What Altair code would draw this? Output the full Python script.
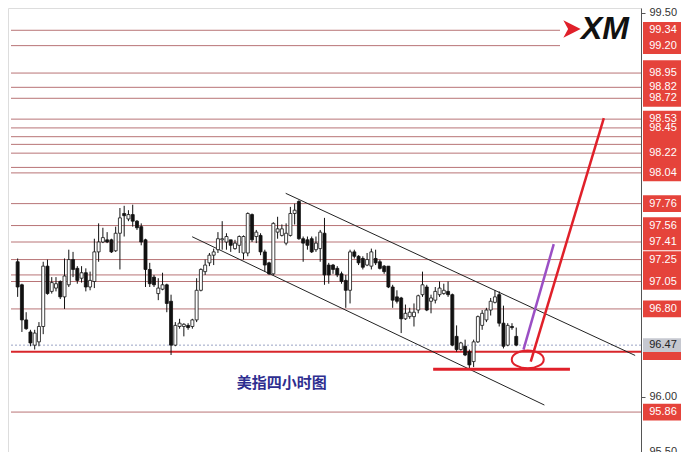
import altair as alt
import pandas as pd

# ---------------- candle data (4-hour USD index) ----------------
OPEN = [97.23, 97.02, 96.70, 96.59, 96.47, 96.50, 96.64, 97.19, 96.96, 96.99,
        97.05, 96.91, 97.02, 97.25, 97.17, 97.08, 97.13, 97.00, 97.05, 97.32,
        97.41, 97.43, 97.43, 97.33, 97.49, 97.67, 97.62, 97.66, 97.60, 97.55,
        97.43, 97.16, 97.09, 96.94, 96.98, 97.02, 96.87, 96.47, 96.64, 96.64,
        96.65, 96.64, 96.70, 96.97, 97.14, 97.22, 97.29, 97.34, 97.43, 97.41,
        97.43, 97.35, 97.38, 97.31, 97.31, 97.66, 97.46, 97.47, 97.32, 97.22,
        97.12, 97.50, 97.47, 97.40, 97.47, 97.67, 97.78, 97.44, 97.43, 97.44,
        97.34, 97.35, 97.49, 97.20, 97.20, 97.17, 97.12, 97.06, 96.97, 97.32,
        97.28, 97.26, 97.20, 97.19, 97.26, 97.23, 97.19, 97.19, 97.00, 96.91,
        96.90, 96.71, 96.73, 96.73, 96.79, 96.93, 97.00, 96.87, 96.88, 96.93,
        96.94, 96.96, 96.93, 96.55, 96.43, 96.46, 96.41, 96.32, 96.50, 96.65,
        96.70, 96.79, 96.86, 96.93, 96.67, 96.47, 96.64, 96.55]
HIGH = [97.26, 97.03, 96.77, 96.61, 96.61, 96.68, 97.23, 97.25, 97.09, 97.09,
        97.06, 97.26, 97.34, 97.32, 97.19, 97.19, 97.17, 97.14, 97.44, 97.58,
        97.54, 97.50, 97.44, 97.55, 97.72, 97.74, 97.70, 97.75, 97.61, 97.58,
        97.44, 97.22, 97.11, 97.08, 97.13, 97.03, 96.93, 96.68, 96.71, 96.67,
        96.67, 96.71, 97.08, 97.17, 97.25, 97.31, 97.35, 97.50, 97.60, 97.49,
        97.43, 97.43, 97.47, 97.47, 97.68, 97.67, 97.52, 97.49, 97.34, 97.23,
        97.59, 97.64, 97.57, 97.58, 97.73, 97.76, 97.79, 97.46, 97.46, 97.46,
        97.46, 97.52, 97.63, 97.22, 97.21, 97.19, 97.14, 97.11, 97.34, 97.34,
        97.29, 97.28, 97.31, 97.35, 97.34, 97.25, 97.20, 97.19, 97.02, 96.97,
        96.91, 96.84, 96.81, 96.85, 96.93, 97.14, 97.02, 96.93, 97.00, 97.05,
        97.03, 97.05, 96.94, 96.65, 96.50, 96.52, 96.43, 96.52, 96.74, 96.79,
        96.81, 96.90, 96.97, 96.96, 96.83, 96.67, 96.67, 96.63]
LOW = [96.91, 96.59, 96.61, 96.46, 96.43, 96.46, 96.57, 96.93, 96.94, 96.96,
       96.89, 96.80, 97.00, 97.09, 97.03, 97.04, 96.96, 96.97, 96.99, 97.23,
       97.40, 97.40, 97.31, 97.32, 97.16, 97.46, 97.60, 97.55, 97.52, 97.38,
       97.00, 97.00, 97.00, 96.88, 96.97, 96.77, 96.38, 96.46, 96.62, 96.55,
       96.61, 96.62, 96.68, 96.96, 97.11, 97.19, 97.20, 97.31, 97.34, 97.34,
       97.32, 97.34, 97.31, 97.25, 97.28, 97.41, 97.40, 97.29, 97.14, 97.11,
       97.11, 97.44, 97.46, 97.38, 97.46, 97.57, 97.43, 97.23, 97.34, 97.31,
       97.32, 97.23, 97.02, 97.03, 97.12, 97.09, 97.03, 96.81, 96.85, 97.26,
       97.20, 97.16, 97.19, 97.16, 97.20, 97.16, 97.12, 96.99, 96.81, 96.85,
       96.58, 96.70, 96.71, 96.64, 96.76, 96.91, 96.78, 96.76, 96.85, 96.91,
       96.93, 96.91, 96.46, 96.41, 96.42, 96.37, 96.26, 96.27, 96.49, 96.61,
       96.68, 96.74, 96.85, 96.64, 96.44, 96.46, 96.61, 96.46]
CLOSE = [97.00, 96.70, 96.62, 96.49, 96.58, 96.64, 97.19, 96.94, 97.04, 97.03,
         96.91, 97.10, 97.25, 97.16, 97.06, 97.13, 97.00, 97.06, 97.32, 97.41,
         97.45, 97.41, 97.32, 97.49, 97.63, 97.65, 97.66, 97.60, 97.54, 97.41,
         97.16, 97.03, 97.02, 96.99, 97.02, 96.85, 96.47, 96.65, 96.67, 96.66,
         96.63, 96.70, 96.97, 97.16, 97.20, 97.29, 97.32, 97.44, 97.44, 97.46,
         97.38, 97.40, 97.46, 97.46, 97.67, 97.43, 97.50, 97.32, 97.20, 97.12,
         97.58, 97.53, 97.53, 97.49, 97.67, 97.70, 97.44, 97.40, 97.38, 97.32,
         97.40, 97.50, 97.11, 97.11, 97.16, 97.11, 97.05, 96.97, 97.32, 97.28,
         97.22, 97.18, 97.25, 97.32, 97.22, 97.17, 97.14, 97.00, 96.88, 96.87,
         96.71, 96.76, 96.77, 96.77, 96.92, 97.02, 96.79, 96.90, 96.96, 96.99,
         96.97, 96.93, 96.47, 96.43, 96.49, 96.38, 96.29, 96.50, 96.73, 96.76,
         96.79, 96.87, 96.91, 96.67, 96.46, 96.65, 96.63, 96.47]

# horizontal price levels drawn across the chart
LEVELS = [99.34, 99.20, 98.95, 98.82, 98.72, 98.53, 98.45, 98.37, 98.30, 98.22,
          98.09, 98.04, 97.76, 97.56, 97.41, 97.25, 97.11, 97.05, 96.80, 95.86]
# red price tags on the right axis (some are hidden under their neighbours)
TAG_LEVELS = [99.34, 99.20, 98.99, 98.95, 98.82, 98.72, 98.53, 98.45, 98.37, 98.30,
              98.22, 98.09, 98.04, 97.76, 97.56, 97.41, 97.25, 97.11, 97.05, 96.80,
              96.41, 95.86]
TAG_TEXTS = ["99.34", "99.20", "98.95", "98.82", "98.72", "98.53", "98.45", "98.22",
             "98.04", "97.76", "97.56", "97.41", "97.25", "97.05", "96.80", "95.86"]
AXIS_VALUES = [95.50, 96.00, 99.50]
LAST_PRICE = 96.47
SUPPORT = 96.41
LOW_SUPPORT = 96.25
LOW_SUPPORT_RANGE = [98.5, 130.6]

# drawn trend channel: (x1, y1, x2, y2)
CH_X1 = [63.9, 41.95]
CH_Y1 = [97.854, 97.458]
CH_X2 = [145.9, 124.6]
CH_Y2 = [96.376, 95.924]
# projection arrows
PURPLE = [119.7, 96.43, 126.8, 97.39]
RED = [121.4, 96.32, 138.55, 98.54]
CIRCLE = [120.7, 96.34]
TITLE = ["美指四小时图", 63, 96.125]

N = len(OPEN)
candles = pd.DataFrame({"i": list(range(1, N + 1)), "open": OPEN, "high": HIGH,
                        "low": LOW, "close": CLOSE})
levels = pd.DataFrame({"p": LEVELS})
tags = pd.DataFrame({"p": TAG_LEVELS})
tag_text = pd.DataFrame({"p": [float(t) for t in TAG_TEXTS], "t": TAG_TEXTS})
channel = pd.DataFrame({"x1": CH_X1, "y1": CH_Y1, "x2": CH_X2, "y2": CH_Y2})
arrows = pd.DataFrame({"x1": [PURPLE[0], RED[0]], "y1": [PURPLE[1], RED[1]],
                       "x2": [PURPLE[2], RED[2]], "y2": [PURPLE[3], RED[3]],
                       "c": ["purple", "red"]})

XS = alt.Scale(domain=[-0.09, 146.1], nice=False, zero=False)
YS = alt.Scale(domain=[95.496, 99.543], nice=False, zero=False)
X = lambda f: alt.X(f, type="quantitative", scale=XS, axis=None)
Y = lambda f: alt.Y(f, type="quantitative", scale=YS,
                    axis=alt.Axis(orient="right", values=AXIS_VALUES, format=".2f",
                                  title=None, grid=False, tickSize=4, labelPadding=4,
                                  labelFont="Liberation Sans", labelFontSize=11,
                                  labelColor="#333", tickColor="#555",
                                  domainColor="#555"))

base = alt.Chart(candles)

lines = alt.Chart(levels).mark_rule(color="#b87476", strokeWidth=1).encode(
    y=Y("p"), x=alt.value(3), x2=alt.value(633))

last_line = alt.Chart(pd.DataFrame({"p": [LAST_PRICE]})).mark_rule(
    color="#9aa3c4", strokeWidth=1, strokeDash=[2, 2]).encode(
    y=Y("p"), x=alt.value(3), x2=alt.value(633))

support = alt.Chart(pd.DataFrame({"p": [SUPPORT]})).mark_rule(
    color="#d8262b", strokeWidth=2).encode(y=Y("p"), x=alt.value(3), x2=alt.value(633))

low_support = alt.Chart(pd.DataFrame({"p": [LOW_SUPPORT], "a": [LOW_SUPPORT_RANGE[0]],
                                      "b": [LOW_SUPPORT_RANGE[1]]})).mark_rule(
    color="#e0202a", strokeWidth=3).encode(y=Y("p"), x=X("a"), x2="b")

chan = alt.Chart(channel).mark_rule(color="#222", strokeWidth=1).encode(
    x=X("x1"), y=Y("y1"), x2="x2", y2="y2")

wicks = base.mark_rule(color="#111", strokeWidth=1).encode(
    x=X("i"), y=Y("low"), y2="high")

bodies = base.mark_bar(size=3, stroke="#111", strokeWidth=0.8).encode(
    x=X("i"), y=Y("open"), y2="close",
    fill=alt.condition("datum.close >= datum.open", alt.value("white"), alt.value("#111")))

arrow_lines = alt.Chart(arrows).mark_rule(strokeWidth=2.5).encode(
    x=X("x1"), y=Y("y1"), x2="x2", y2="y2",
    color=alt.Color("c:N", scale=alt.Scale(domain=["purple", "red"],
                                           range=["#9b4fc4", "#e0202a"]), legend=None))

ellipse = alt.Chart(pd.DataFrame({"x": [CIRCLE[0]], "y": [CIRCLE[1]]})).mark_point(
    shape="M -1,0 A 1,0.56 0 1,0 1,0 A 1,0.56 0 1,0 -1,0 Z",
    size=1024, filled=False, stroke="#e0202a", strokeWidth=2, opacity=1).encode(
    x=X("x"), y=Y("y"))

title = alt.Chart(pd.DataFrame({"t": [TITLE[0]], "x": [TITLE[1]], "y": [TITLE[2]]})).mark_text(
    font="Noto Sans CJK SC", fontSize=15, fontWeight="bold", color="#2e2e90",
    align="center", baseline="middle").encode(x=X("x"), y=Y("y"), text="t")

logo_bg = alt.Chart(pd.DataFrame({"a": [0]})).mark_rect(color="white").encode(
    x=alt.value(552), x2=alt.value(633), y=alt.value(8), y2=alt.value(43))
logo_tri = alt.Chart(pd.DataFrame({"a": [0]})).mark_point(
    shape="M -1,-1 L 1,0 L -1,1 L -0.45,0 Z", filled=True, color="#e0202a",
    size=300, opacity=1).encode(x=alt.value(564), y=alt.value(21))
logo_text = alt.Chart(pd.DataFrame({"t": ["XM"]})).mark_text(
    font="Liberation Sans", fontSize=32, fontWeight="bold", fontStyle="italic",
    color="#111", align="center", baseline="middle").encode(
    x=alt.value(597), y=alt.value(21), text="t")

# custom symbol paths are scaled by sqrt(size)/2: 1444 -> 38 px wide, ~17 px tall
TAG_SHAPE = "M -1,-0.44 L 1,-0.44 L 1,0.44 L -1,0.44 Z"
tag_boxes = alt.Chart(tags).mark_point(
    shape=TAG_SHAPE, size=1444, filled=True, color="#e5433b", opacity=1).encode(
    x=alt.value(654), y=Y("p"))
tag_labels = alt.Chart(tag_text).mark_text(
    font="Liberation Sans", fontSize=11, color="white", align="center",
    baseline="middle").encode(x=alt.value(655), y=Y("p"), text="t")
last_box = alt.Chart(pd.DataFrame({"p": [LAST_PRICE], "t": ["96.47"]})).mark_point(
    shape="M -1,-0.36 L 1,-0.36 L 1,0.36 L -1,0.36 Z", size=1444, filled=True,
    color="#c6c8d0", opacity=1).encode(x=alt.value(654), y=Y("p"))
last_label = alt.Chart(pd.DataFrame({"p": [LAST_PRICE], "t": ["96.47"]})).mark_text(
    font="Liberation Sans", fontSize=11, color="#222", align="center",
    baseline="middle").encode(x=alt.value(655), y=Y("p"), text="t")

chart = alt.layer(
    lines, last_line, support, chan, wicks, bodies, low_support, arrow_lines,
    ellipse, title, logo_bg, logo_tri, logo_text,
    tag_boxes, tag_labels, last_box, last_label
).properties(
    width=633, height=444,
    autosize=alt.AutoSizeParams(type="none"),
    padding={"left": 0, "top": 0, "right": 49, "bottom": 0},
).configure_view(stroke=None).configure(background="white")

chart.save("out.html", embed_options={"renderer": "svg", "actions": False})
